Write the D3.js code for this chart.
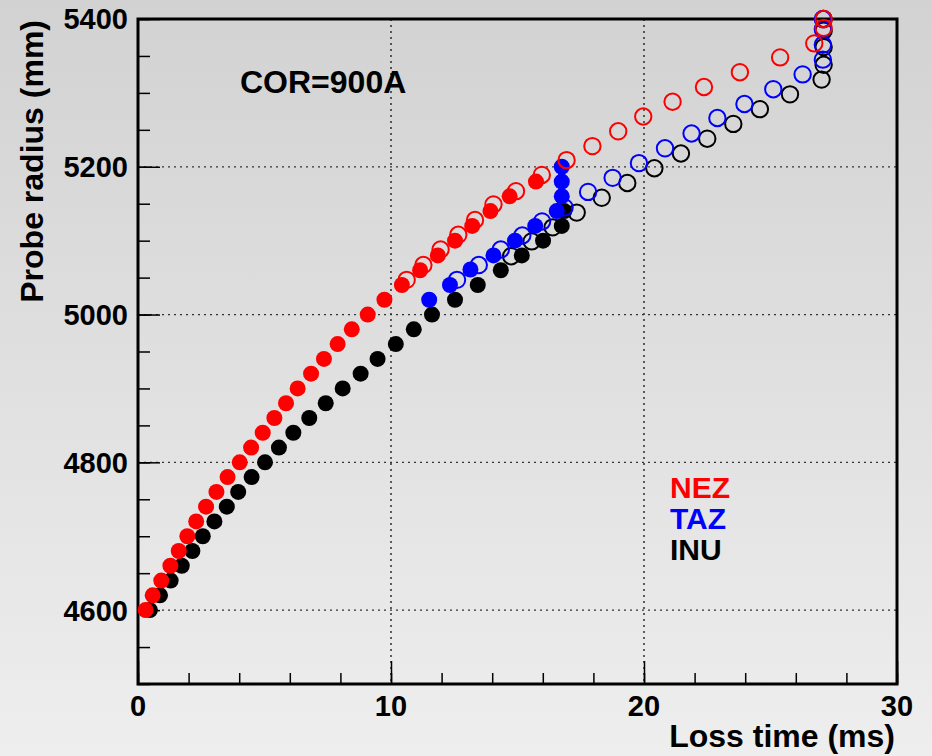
<!DOCTYPE html>
<html><head><meta charset="utf-8">
<script src="https://cdn.jsdelivr.net/npm/d3@7"></script>
<style>
html,body{margin:0;padding:0;background:#e0e0e0;}
svg{display:block;font-family:"Liberation Sans",Arial,Helvetica,sans-serif;font-weight:bold;}
</style></head>
<body>
<svg id="chart" width="932" height="756"></svg>
<script>
// ---- data (Loss time in ms, Probe radius in mm) ----
const nezFilledT = [0.30,0.58,0.92,1.28,1.61,1.95,2.30,2.69,3.10,3.54,4.02,4.47,4.93,5.39,5.85,6.31,6.84,7.35,7.89,8.45,9.08,9.74,10.43,11.15,11.85,12.53,13.21,13.93,14.69,15.73];
const nezFilledR = [4600,4620,4640,4660,4680,4700,4720,4740,4760,4780,4800,4820,4840,4860,4880,4900,4920,4940,4960,4980,5000,5020,5040,5060,5080,5100,5120,5140,5160,5180];
const nezOpenT = [10.62,11.28,11.96,12.66,13.32,14.05,14.94,15.96,16.94,17.96,18.98,19.97,21.13,22.37,23.79,25.38,26.73,27.10,27.10];
const nezOpenR = [5047,5067,5088,5108,5128,5149,5167,5189,5209,5228,5248,5268,5288,5308,5328,5348,5367,5388,5400];

const tazFilledT = [11.51,12.33,13.14,14.05,14.90,15.70,16.55,16.75,16.75,16.75];
const tazFilledR = [5020,5040,5061,5080,5100,5120,5140,5160,5180,5200];
const tazOpenT = [12.61,13.47,14.34,15.19,15.97,16.86,17.79,18.76,19.80,20.83,21.88,22.90,23.97,25.11,26.27,27.07,27.07,27.07,27.07];
const tazOpenR = [5047,5067,5088,5107,5126,5145,5166,5185,5205,5225,5245,5266,5285,5305,5325,5345,5365,5386,5400];

const inuFilledT = [0.47,0.87,1.29,1.73,2.15,2.56,3.02,3.51,3.96,4.49,5.02,5.57,6.14,6.77,7.42,8.09,8.80,9.47,10.19,10.90,11.62,12.53,13.43,14.34,15.17,16.01,16.75,16.85];
const inuFilledR = [4600,4620,4640,4660,4680,4700,4720,4740,4760,4780,4800,4820,4840,4860,4880,4900,4920,4940,4960,4980,5000,5020,5040,5060,5080,5100,5120,5140];
const inuOpenT = [14.75,15.56,16.39,17.34,18.33,19.34,20.41,21.46,22.50,23.53,24.58,25.77,27.02,27.10,27.10,27.10,27.10];
const inuOpenR = [5079,5099,5118,5138,5158,5178,5198,5218,5238,5258,5278,5298,5318,5338,5362,5384,5400];

const xTicks = [0,10,20,30];
const yTicks = [4600,4800,5000,5200,5400];
const xTitle = "Loss time (ms)";
const yTitle = "Probe radius (mm)";
const annotation = "COR=900A";
const legendNames = ["NEZ","TAZ","INU"];
const legendColors = ["#ff0000","#0000ff","#000000"];

// ---- layout ----
const W = 932, H = 756;
const m = {left:138, top:19, right:35, bottom:72};
const svg = d3.select("#chart");

const defs = svg.append("defs");
const grad = defs.append("linearGradient").attr("id","bg").attr("x1",0).attr("y1",0).attr("x2",0).attr("y2",1);
grad.append("stop").attr("offset","0%").attr("stop-color","#d2d2d2");
grad.append("stop").attr("offset","100%").attr("stop-color","#eeeeee");
svg.append("rect").attr("width",W).attr("height",H).attr("fill","url(#bg)");

const x = d3.scaleLinear().domain([0,30]).range([m.left, W-m.right]);
const y = d3.scaleLinear().domain([4500,5400]).range([H-m.bottom, m.top]);

// grid
const grid = svg.append("g");
grid.selectAll("line.gx").data(xTicks.filter(v=>v>0&&v<30)).join("line")
  .attr("x1",d=>x(d)).attr("x2",d=>x(d)).attr("y1",y(5400)).attr("y2",y(4500))
  .attr("stroke","#111").attr("stroke-width",1.3).attr("stroke-dasharray","2,4");
grid.selectAll("line.gy").data(yTicks.filter(v=>v<5400)).join("line")
  .attr("y1",d=>y(d)).attr("y2",d=>y(d)).attr("x1",x(0)).attr("x2",x(30))
  .attr("stroke","#333").attr("stroke-width",1.3).attr("stroke-dasharray","2,4");

// axes (ticks inside)
const xAxisMinor = d3.axisTop(x).tickValues(d3.range(0,31,2)).tickSize(11).tickFormat("");
const xAxisMajor = d3.axisTop(x).tickValues(xTicks).tickSize(23).tickFormat("");
const yAxisMinor = d3.axisRight(y).tickValues(d3.range(4500,5401,50)).tickSize(12).tickFormat("");
const yAxisMajor = d3.axisRight(y).tickValues(yTicks).tickSize(22).tickFormat("");
[xAxisMinor,xAxisMajor].forEach(a=>{
  const g = svg.append("g").attr("transform",`translate(0,${y(4500)})`).call(a);
  g.select(".domain").remove();
  g.selectAll("line").attr("stroke","#000").attr("stroke-width",1.5);
});
[yAxisMinor,yAxisMajor].forEach(a=>{
  const g = svg.append("g").attr("transform",`translate(${x(0)},0)`).call(a);
  g.select(".domain").remove();
  g.selectAll("line").attr("stroke","#000").attr("stroke-width",1.5);
});

// tick labels
svg.append("g").selectAll("text").data(xTicks).join("text")
  .attr("x",d=>x(d)).attr("y",716).attr("text-anchor","middle")
  .attr("font-size",29).attr("fill","#000").text(d=>d);
svg.append("g").selectAll("text").data(yTicks).join("text")
  .attr("x",128).attr("y",d=>y(d)).attr("dy","0.36em").attr("text-anchor","end")
  .attr("font-size",29).attr("fill","#000").text(d=>d);

// titles
svg.append("text").attr("x",895).attr("y",747).attr("text-anchor","end")
  .attr("font-size",32).attr("fill","#000").text(xTitle);
svg.append("text").attr("transform",`translate(43,${m.top+1}) rotate(-90)`).attr("text-anchor","end")
  .attr("font-size",32).attr("fill","#000").text(yTitle);

// annotation
svg.append("text").attr("x",240).attr("y",93).attr("font-size",32).attr("fill","#000").text(annotation);

// legend
svg.append("g").selectAll("text").data(legendNames).join("text")
  .attr("x",670).attr("y",(d,i)=>498+i*31).attr("font-size",30)
  .attr("fill",(d,i)=>legendColors[i]).text(d=>d);

// frame
svg.append("rect").attr("x",x(0)).attr("y",y(5400)).attr("width",x(30)-x(0)).attr("height",y(4500)-y(5400))
  .attr("fill","none").attr("stroke","#000").attr("stroke-width",3);

// markers
const pts = svg.append("g");
function openSeries(T,R,color){
  pts.append("g").selectAll("circle").data(T.map((t,i)=>[t,R[i]])).join("circle")
    .attr("cx",d=>x(d[0])).attr("cy",d=>y(d[1])).attr("r",8.2)
    .attr("fill","none").attr("stroke",color).attr("stroke-width",2);
}
function filledSeries(T,R,color){
  pts.append("g").selectAll("circle").data(T.map((t,i)=>[t,R[i]])).join("circle")
    .attr("cx",d=>x(d[0])).attr("cy",d=>y(d[1])).attr("r",8)
    .attr("fill",color);
}
openSeries(inuOpenT,inuOpenR,"#000000");
filledSeries(inuFilledT,inuFilledR,"#000000");
openSeries(tazOpenT,tazOpenR,"#0000ff");
filledSeries(tazFilledT,tazFilledR,"#0000ff");
openSeries(nezOpenT,nezOpenR,"#ff0000");
filledSeries(nezFilledT,nezFilledR,"#ff0000");
</script>
</body></html>
